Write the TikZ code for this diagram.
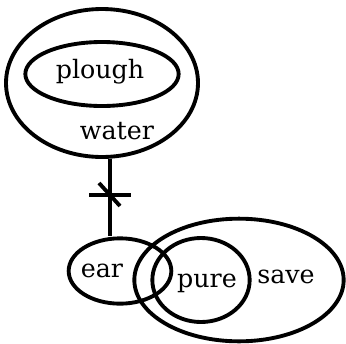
\documentclass[tikz,border=0pt]{standalone}
\usepackage{fontspec}
\setmainfont{DejaVu Serif}
\usetikzlibrary{shapes.geometric, positioning}

\tikzset{
  set/.style={draw, ellipse, line width=2.9pt, inner sep=0pt},
  link/.style={line width=2.9pt},
  word/.style={font=\fontsize{19}{21}\selectfont, inner sep=0pt}
}

\begin{document}
\begin{tikzpicture}[x=0.75pt, y=-0.75pt]
		\useasboundingbox (0,0) rectangle (346,343);
		% outer set with the inner one
		\node[set, minimum width=144pt, minimum height=111pt] (water) at (102,83) {};
		\node[set, minimum width=115pt, minimum height=48pt] (plough) at (102,74) {};
		\node[word] (ploughtxt) at (100,72) {plough};
		\node[word] (watertxt) at (117,131) {water};
		
		% lower sets
		\node[set, minimum width=77pt, minimum height=49pt] (ear) at (120,271) {};
		\node[set, minimum width=157pt, minimum height=92pt] (save) at (239,280) {};
		\node[set, minimum width=73pt, minimum height=63pt] (pure) at (201,280) {};
		\node[word] (eartxt) at (102,271) {ear};
		\node[word] (puretxt) at (207,283) {pure};
		\node[word] (savetxt) at (286,277) {save};
		
		% link with crossed mark
		\coordinate (lnk) at (110,195);
		\draw[link] (lnk |- water.south) -- (lnk |- ear.north);
		\draw[link] ([shift={(-21,0)}]lnk) -- ([shift={(21,0)}]lnk);
		\draw[link] ([shift={(-11,-12)}]lnk) -- ([shift={(10,11)}]lnk);
	\end{tikzpicture}
\end{document}
